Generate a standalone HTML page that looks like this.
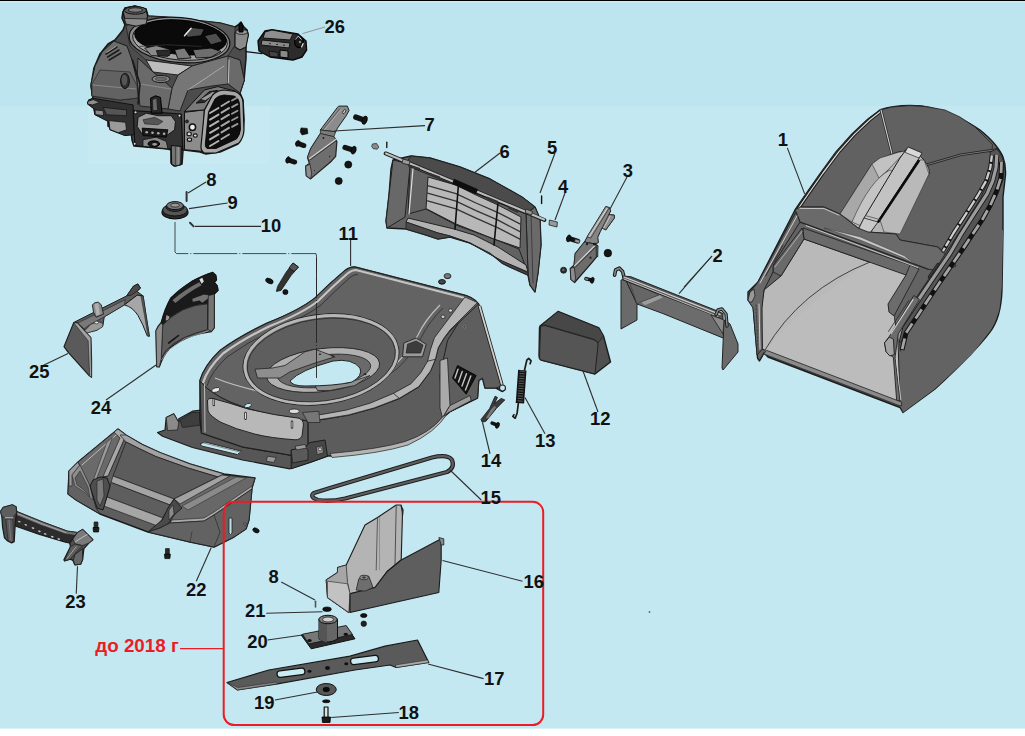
<!DOCTYPE html>
<html><head><meta charset="utf-8"><title>Схема</title>
<style>
html,body{margin:0;padding:0;background:#fff;}
body{width:1025px;height:736px;overflow:hidden;position:relative;font-family:"Liberation Sans",sans-serif;}
svg{position:absolute;left:0;top:0;display:block}
svg text{font-family:"Liberation Sans",sans-serif;font-weight:bold;}
</style></head><body>
<svg width="1025" height="736" viewBox="0 0 1025 736">
<rect x="0" y="0" width="1025" height="736" fill="#ffffff"/>
<rect x="0" y="0" width="1025" height="728.6" fill="#c4e8f1"/>
<rect x="0" y="0" width="1025" height="106" fill="#bde5ef"/>
<rect x="0" y="0" width="1025" height="1.2" fill="#000"/>
<rect x="0" y="1.2" width="1025" height="1" fill="#dff6fb"/>
<rect x="88" y="106" width="182" height="58" fill="#c6e9f2"/>
<polygon points="123,12 125,8 135,6 146,9 148,16 164,17 192,20 220,23 235,27 238,25 241,22 243,26 247,30 248,35 246,43 246,58 244,80 240,93 243,100 244,120 243,132 238,144 220,152 206,154 200,152 184,150 183,150 182,164 174,166 171,163 171,150 168,149 134,146 132,140 131,130 118,132 108,126 108,118 95,114 94,108 88,103 89,100 93,99 91,86 94,68 100,54 108,44 115,40 123,30 125,25 122,18" fill="#4c4c4c" stroke="#1a1a1a" stroke-width="1.6" stroke-linejoin="round" />
<polygon points="114,41 127,46 132,60 137,80 138,98 120,100 92,96 91,84 95,66 102,52" fill="#6c6c6c" stroke="#1a1a1a" stroke-width="1" stroke-linejoin="round" />
<polygon points="92,84 100,70 130,72 137,86 138,98 120,100 92,96" fill="#626262" stroke="#2a2a2a" stroke-width="0.7" stroke-linejoin="round" />
<polyline points="93,85 136,89" fill="none" stroke="#aaa" stroke-width="0.6" stroke-linejoin="round" stroke-linecap="round" stroke-dasharray="2,1"/>
<polyline points="106,54 117,47" fill="none" stroke="#1c1c1c" stroke-width="1.5" stroke-linejoin="round" stroke-linecap="round" />
<polyline points="107.6,57 119,50" fill="none" stroke="#1c1c1c" stroke-width="1.5" stroke-linejoin="round" stroke-linecap="round" />
<polyline points="109.2,60 121,53" fill="none" stroke="#1c1c1c" stroke-width="1.5" stroke-linejoin="round" stroke-linecap="round" />
<polyline points="106.8,52.4 116,46.4" fill="none" stroke="#bbb" stroke-width="0.7" stroke-linejoin="round" stroke-linecap="round" />
<ellipse cx="125" cy="81" rx="4.4" ry="7.6" fill="#2e2e2e" stroke="#111" stroke-width="1"/>
<ellipse cx="124.4" cy="80" rx="2.8" ry="5.6" fill="#555" stroke="none" stroke-width="1"/>
<polygon points="147.6,16 164,17 192,20 220,23 235,27 235,45 228,56 192,66 146,60 130,46 126,26" fill="#5a5a5a" stroke="#222" stroke-width="0.8" stroke-linejoin="round" />
<ellipse cx="179.5" cy="40" rx="50.5" ry="22.5" fill="#8c8c8c" stroke="#111" stroke-width="1.2" transform="rotate(5 179.5 40)"/>
<ellipse cx="180" cy="40" rx="47.5" ry="20" fill="#a4a4a4" stroke="#111" stroke-width="0.9" transform="rotate(5 180 40)"/>
<ellipse cx="180.5" cy="37.5" rx="46" ry="17" fill="#0a0a0a" stroke="#000" stroke-width="1" transform="rotate(5 180.5 37.5)"/>
<polygon points="144.7,48.1 156.3,45.6 171.2,49.8 167.9,56.4 151.3,55.6" fill="#8a8a8a" stroke="#000" stroke-width="0.8" stroke-linejoin="round" />
<polygon points="156.3,50.6 171.2,49.8 169.6,55.6 158,55.6" fill="#2a2a2a" stroke="#000" stroke-width="0.6" stroke-linejoin="round" />
<polygon points="174.6,49.8 184.5,48.1 191.1,58 177.9,58.9" fill="#7a7a7a" stroke="#000" stroke-width="0.8" stroke-linejoin="round" />
<polygon points="192.8,49.8 211,48.1 221,51.4 211,57.2 196.1,58" fill="#6e6e6e" stroke="#000" stroke-width="0.8" stroke-linejoin="round" />
<polygon points="184.5,33.2 191.1,27.4 204.4,29 201.1,35.7 187.8,37.3" fill="#4a4a4a" stroke="#000" stroke-width="0.8" stroke-linejoin="round" />
<polygon points="204.4,35.7 216,33.2 222.6,41.5 211,44.8" fill="#4e4e4e" stroke="#000" stroke-width="0.8" stroke-linejoin="round" />
<polyline points="184.5,35.7 191.1,28.2" fill="none" stroke="#e8e8e8" stroke-width="1.4" stroke-linejoin="round" stroke-linecap="round" />
<polyline points="139.7,46.4 167.9,44.8 201.1,46.4" fill="none" stroke="#333" stroke-width="0.8" stroke-linejoin="round" stroke-linecap="round" />
<polygon points="146,60 192,66 178,75 153,72" fill="#bcbcbc" stroke="#222" stroke-width="1" stroke-linejoin="round" />
<polygon points="192,66 228,56 240,60 244.4,80 240,93 228,84 212,86 188,90 180,111 168,109 172,88 178,75" fill="#767676" stroke="#222" stroke-width="1" stroke-linejoin="round" />
<polygon points="228,56 240,60 244.4,80 240,93 228,84" fill="#6a6a6a" stroke="#222" stroke-width="1" stroke-linejoin="round" />
<polyline points="188,90 224,66" fill="none" stroke="#c0c0c0" stroke-width="0.8" stroke-linejoin="round" stroke-linecap="round" stroke-dasharray="1.5,1"/>
<polyline points="229,60 228.4,83" fill="none" stroke="#ddd" stroke-width="0.8" stroke-linejoin="round" stroke-linecap="round" />
<polygon points="138,58 153,72 172,88 168,109 140,106 137,80" fill="#6a6a6a" stroke="#222" stroke-width="1" stroke-linejoin="round" />
<polyline points="140,84 171,89" fill="none" stroke="#aaa" stroke-width="0.6" stroke-linejoin="round" stroke-linecap="round" stroke-dasharray="2,1"/>
<ellipse cx="161" cy="79" rx="9" ry="3.6" fill="#858585" stroke="#1c1c1c" stroke-width="1"/>
<ellipse cx="161" cy="79" rx="5.6" ry="1.8" fill="#6a6a6a" stroke="#333" stroke-width="0.6"/>
<polyline points="132.4,60 140,84 138,104" fill="none" stroke="#1a1a1a" stroke-width="1.6" stroke-linejoin="round" stroke-linecap="round" />
<polygon points="123,12 125,8 135,6 146,9 147.6,16 146,24 136,26 126,24" fill="#6b6b6b" stroke="#111" stroke-width="1.2" stroke-linejoin="round" />
<polygon points="124.4,18.4 147,19 146,24 136,26 126,24" fill="#8a8a8a" stroke="#111" stroke-width="0.7" stroke-linejoin="round" />
<ellipse cx="135.4" cy="10.4" rx="11" ry="3.8" fill="#5a5a5a" stroke="#111" stroke-width="1"/>
<ellipse cx="135.4" cy="10" rx="7.2" ry="2.2" fill="#7e7e7e" stroke="#222" stroke-width="1"/>
<polygon points="235,33 238,30 247,30 248.4,35 246,47 240,50 235,47" fill="#8a8a8a" stroke="#111" stroke-width="1.1" stroke-linejoin="round" />
<ellipse cx="241.6" cy="32" rx="6" ry="2.4" fill="#9a9a9a" stroke="#111" stroke-width="0.8"/>
<polygon points="239,25 241,22.4 243,25 243,32 239,32" fill="#111" stroke="#000" stroke-width="1" stroke-linejoin="round" />
<polygon points="88.3,100.7 92.5,98.2 133.1,104.9 134.8,134.7 124.8,135.6 109.9,129.8 108.2,121.5 95,114.8 94.1,109 87.5,104" fill="#303030" stroke="#111" stroke-width="1" stroke-linejoin="round" />
<polygon points="109,120.6 125.6,122.3 126.5,129.8 118.2,132.7 109.9,129.4" fill="#9a9a9a" stroke="#111" stroke-width="0.8" stroke-linejoin="round" />
<polygon points="95,109.9 103.2,110.7 103.6,115.7 95.3,114.5" fill="#8a8a8a" stroke="#111" stroke-width="0.8" stroke-linejoin="round" />
<polygon points="88,101.2 93.3,99.6 99.9,102.4 92.5,104.9 87.5,104" fill="#8e8e8e" stroke="#111" stroke-width="0.8" stroke-linejoin="round" />
<polygon points="103.2,107.4 126.5,109.9 126.5,115.7 106.6,114.8" fill="#555" stroke="#111" stroke-width="0.7" stroke-linejoin="round" />
<polygon points="133.1,110.7 181.2,114 182.8,149.7 167.9,148.8 134.8,145.5" fill="#333" stroke="#111" stroke-width="1.2" stroke-linejoin="round" />
<polygon points="138.1,117.3 146.4,113.2 158,115.7 171.2,115.7 175.4,121.5 174.6,129.8 167.9,134.7 141.4,133.1 137.2,126.4" fill="#999" stroke="#111" stroke-width="0.9" stroke-linejoin="round" />
<polygon points="143,119.8 154.7,117.3 162.9,121.5 158,124.8 144.7,123.9" fill="#555" stroke="#222" stroke-width="0.6" stroke-linejoin="round" />
<polygon points="142.2,128.1 167.9,129.8 166.3,137.2 143,135.6" fill="#1a1a1a" stroke="#000" stroke-width="0.8" stroke-linejoin="round" />
<ellipse cx="146.692" cy="132.239" rx="1.3267" ry="1.3267" fill="#aaa" stroke="none" stroke-width="1"/>
<ellipse cx="152.496" cy="132.736" rx="1.3267" ry="1.3267" fill="#aaa" stroke="none" stroke-width="1"/>
<ellipse cx="158.3" cy="133.234" rx="1.3267" ry="1.3267" fill="#aaa" stroke="none" stroke-width="1"/>
<ellipse cx="164.104" cy="133.731" rx="1.3267" ry="1.3267" fill="#aaa" stroke="none" stroke-width="1"/>
<polygon points="143,139.7 156.3,137.2 166.3,141.4 167.9,148.8 143,146.3" fill="#8a8a8a" stroke="#111" stroke-width="0.8" stroke-linejoin="round" />
<ellipse cx="153.823" cy="143.847" rx="5.80431" ry="2.98507" fill="#1a1a1a" stroke="#000" stroke-width="1"/>
<ellipse cx="154.652" cy="144.345" rx="2.48756" ry="1.3267" fill="#999" stroke="none" stroke-width="1"/>
<ellipse cx="135.58" cy="112.338" rx="1.49254" ry="1.49254" fill="#ddd" stroke="#111" stroke-width="1"/>
<ellipse cx="179.527" cy="115.655" rx="1.49254" ry="1.49254" fill="#ddd" stroke="#111" stroke-width="1"/>
<ellipse cx="134.751" cy="143.847" rx="1.49254" ry="1.49254" fill="#ddd" stroke="#111" stroke-width="1"/>
<ellipse cx="178.698" cy="149.652" rx="1.49254" ry="1.49254" fill="#ddd" stroke="#111" stroke-width="1"/>
<polygon points="150.5,98.2 155.5,95.8 160.5,97.4 162.1,113.2 151.3,113.2" fill="#262626" stroke="#000" stroke-width="1" stroke-linejoin="round" />
<polygon points="153,99.9 156.3,98.6 157.1,109.9 153.3,109.9" fill="#6a6a6a" stroke="none" stroke-width="1" stroke-linejoin="round" />
<polygon points="171.2,145.5 181.2,146.3 180.9,164.6 175.4,166.2 171.6,164.2" fill="#767676" stroke="#111" stroke-width="1.2" stroke-linejoin="round" />
<polyline points="175.4,147.2 175.4,165.4" fill="none" stroke="#333" stroke-width="0.8" stroke-linejoin="round" stroke-linecap="round" />
<polyline points="178.2,147.2 178.2,164.9" fill="none" stroke="#aaa" stroke-width="0.7" stroke-linejoin="round" stroke-linecap="round" />
<polygon points="184.5,112.3 204.4,109.9 201.9,151.3 184.5,149.7" fill="#8c8c8c" stroke="#111" stroke-width="1" stroke-linejoin="round" />
<ellipse cx="192.463" cy="127.264" rx="3.15091" ry="3.15091" fill="#efefef" stroke="#111" stroke-width="1.5"/>
<ellipse cx="189.146" cy="133.897" rx="2.15589" ry="1.82421" fill="#d8d8d8" stroke="#111" stroke-width="1.1"/>
<ellipse cx="195.282" cy="135.556" rx="1.99005" ry="1.65837" fill="#d8d8d8" stroke="#111" stroke-width="1.1"/>
<ellipse cx="189.478" cy="139.701" rx="2.15589" ry="1.65837" fill="#cfcfcf" stroke="#111" stroke-width="1.1"/>
<ellipse cx="186.99" cy="121.459" rx="1.49254" ry="1.49254" fill="#333" stroke="#111" stroke-width="0.8"/>
<polygon points="184.5,111.5 204.4,90 217.7,86.6 234.3,90.8 239.2,94.9 212.7,94.9 204.4,109.9" fill="#7a7a7a" stroke="#111" stroke-width="1" stroke-linejoin="round" />
<polygon points="196.1,103.2 209.4,91.6 217.7,90.3 204.4,102.4" fill="#2a2a2a" stroke="#000" stroke-width="0.7" stroke-linejoin="round" />
<polygon points="201.1,99.1 212.7,91.9 216,92.9 205.2,100.2" fill="#9a9a9a" stroke="none" stroke-width="1" stroke-linejoin="round" />
<path d="M204.5,110 L212.5,95 Q217,90.5 224,90 L235,91.5 Q242,94 243,102 L244,130 Q243.5,138 239,143 L216,153 L204,153 Q200.5,150 201,146 Z" fill="#a6a6a6" stroke="#111" stroke-width="1.2"/>
<path d="M208.5,112 L215,99 Q218,95.5 224,95 L234,96 Q239,98 239.5,104 L240.5,129 Q240,135 236.5,139 L216,148.5 L207,148.5 Q205,147 205.3,144 Z" fill="#0e0e0e" stroke="#000" stroke-width="0.8"/>
<line x1="210" y1="113" x2="218.5" y2="108" stroke="#b4b4b4" stroke-width="2" stroke-linecap="round"/>
<line x1="221.5" y1="106" x2="229" y2="101.5" stroke="#a8a8a8" stroke-width="2" stroke-linecap="round"/>
<line x1="232" y1="100.5" x2="237.5" y2="97.5" stroke="#9a9a9a" stroke-width="1.8" stroke-linecap="round"/>
<line x1="210" y1="119.6" x2="218.5" y2="114.6" stroke="#b4b4b4" stroke-width="2" stroke-linecap="round"/>
<line x1="221.5" y1="112.6" x2="229" y2="108.1" stroke="#a8a8a8" stroke-width="2" stroke-linecap="round"/>
<line x1="232" y1="107.1" x2="237.5" y2="104.1" stroke="#9a9a9a" stroke-width="1.8" stroke-linecap="round"/>
<line x1="210" y1="126.2" x2="218.5" y2="121.2" stroke="#b4b4b4" stroke-width="2" stroke-linecap="round"/>
<line x1="221.5" y1="119.2" x2="229" y2="114.7" stroke="#a8a8a8" stroke-width="2" stroke-linecap="round"/>
<line x1="232" y1="113.7" x2="237.5" y2="110.7" stroke="#9a9a9a" stroke-width="1.8" stroke-linecap="round"/>
<line x1="210" y1="132.8" x2="218.5" y2="127.8" stroke="#b4b4b4" stroke-width="2" stroke-linecap="round"/>
<line x1="221.5" y1="125.8" x2="229" y2="121.3" stroke="#a8a8a8" stroke-width="2" stroke-linecap="round"/>
<line x1="232" y1="120.3" x2="237.5" y2="117.3" stroke="#9a9a9a" stroke-width="1.8" stroke-linecap="round"/>
<line x1="210" y1="139.4" x2="218.5" y2="134.4" stroke="#b4b4b4" stroke-width="2" stroke-linecap="round"/>
<line x1="221.5" y1="132.4" x2="229" y2="127.9" stroke="#a8a8a8" stroke-width="2" stroke-linecap="round"/>
<line x1="232" y1="126.9" x2="237.5" y2="123.9" stroke="#9a9a9a" stroke-width="1.8" stroke-linecap="round"/>
<line x1="210" y1="146" x2="218.5" y2="141" stroke="#b4b4b4" stroke-width="2" stroke-linecap="round"/>
<line x1="221.5" y1="139" x2="229" y2="134.5" stroke="#a8a8a8" stroke-width="2" stroke-linecap="round"/>
<polyline points="246,51.6 262,53.6" fill="none" stroke="#111" stroke-width="1.2" stroke-linejoin="round" stroke-linecap="round" />
<polygon points="258,41 265,31 272,29.6 298,34 306,41 306.6,50 302,57 293,60 270,57 259,51" fill="#2c2c2c" stroke="#0a0a0a" stroke-width="1.4" stroke-linejoin="round" />
<polygon points="265,32 272,30 293,34 290,40 263,38" fill="#8e8e8e" stroke="#111" stroke-width="1" stroke-linejoin="round" />
<polygon points="262,40 290,43 289,48 261,45" fill="#8a8a8a" stroke="#111" stroke-width="1" stroke-linejoin="round" />
<ellipse cx="270" cy="43.6" rx="1" ry="0.6" fill="#222" stroke="none" stroke-width="1"/>
<ellipse cx="277" cy="44.4" rx="1" ry="0.6" fill="#222" stroke="none" stroke-width="1"/>
<ellipse cx="284" cy="45.2" rx="1" ry="0.6" fill="#222" stroke="none" stroke-width="1"/>
<ellipse cx="299" cy="42" rx="4.4" ry="5.6" fill="#1a1a1a" stroke="#000" stroke-width="1.2"/>
<polyline points="295.6,39.2 298.4,36 301.2,39.2" fill="none" stroke="#e8e8e8" stroke-width="0.9" stroke-linejoin="round" stroke-linecap="round" />
<polyline points="301.6,47 303.2,43.6" fill="none" stroke="#e8e8e8" stroke-width="1.2" stroke-linejoin="round" stroke-linecap="round" />
<ellipse cx="300" cy="42" rx="1.6" ry="1.8" fill="#8a8a8a" stroke="#000" stroke-width="0.6"/>
<polygon points="280,50 288,51 288,58 280,57" fill="#8a8a8a" stroke="#000" stroke-width="1" stroke-linejoin="round" />
<polygon points="269,51 278,52.4 278,57 270,56.4" fill="#444" stroke="#000" stroke-width="0.6" stroke-linejoin="round" />
<polygon points="338.7,106.1 347.3,106.1 349.1,110.4 346.1,115.9 337.5,128.1 335.7,131.8 320.4,130 322.2,127.5 337.5,107.3" fill="#8c8c8c" stroke="#222" stroke-width="1" stroke-linejoin="round" />
<polyline points="339.9,108.6 323.1,129.4" fill="none" stroke="#4a4a4a" stroke-width="0.8" stroke-linejoin="round" stroke-linecap="round" />
<polyline points="341.2,109.2 324.6,129.7" fill="none" stroke="#b4b4b4" stroke-width="0.7" stroke-linejoin="round" stroke-linecap="round" />
<ellipse cx="344.22" cy="111.621" rx="1.10092" ry="2.32416" fill="#c4e8f1" stroke="#222" stroke-width="0.8" transform="rotate(30 344.22 111.621)"/>
<polygon points="320.4,133.6 333.8,136.7 336.9,141.6 335.7,156.3 331.4,161.2 310.6,178.9 306.3,175.8 305.7,166.1 309.4,163.6 307.5,157.5 310.6,148.9" fill="#6e6e6e" stroke="#222" stroke-width="1.2" stroke-linejoin="round" />
<polygon points="320.4,130 335.7,131.8 333.8,136.7 320.4,133.6" fill="#7c7c7c" stroke="#222" stroke-width="0.8" stroke-linejoin="round" />
<polygon points="320.4,133.6 333.8,136.7 335.7,139.4 309.4,159 307.5,157.5 310.6,148.9" fill="#787878" stroke="#222" stroke-width="0.6" stroke-linejoin="round" />
<polyline points="309.4,158.7 335.7,139.4" fill="none" stroke="#d4d4d4" stroke-width="1.3" stroke-linejoin="round" stroke-linecap="round" />
<polyline points="309.7,160.2 336,140.9" fill="none" stroke="#2e2e2e" stroke-width="0.9" stroke-linejoin="round" stroke-linecap="round" />
<polygon points="305.7,166.1 310,164.2 311.6,173.4 310.6,178.9 306.3,175.8" fill="#8e8e8e" stroke="#222" stroke-width="0.8" stroke-linejoin="round" />
<ellipse cx="323.425" cy="137.92" rx="0.978593" ry="0.978593" fill="#222" stroke="none" stroke-width="1"/>
<ellipse cx="329.541" cy="156.514" rx="1.10092" ry="1.22324" fill="#2a2a2a" stroke="#999" stroke-width="0.5"/>
<ellipse cx="314.495" cy="170.581" rx="0.978593" ry="1.10092" fill="#2a2a2a" stroke="#999" stroke-width="0.5"/>
<polygon points="301,127.9 307.2,128.4 307.9,133.6 302,134.9 300.2,131.8" fill="#141414" stroke="#000" stroke-width="0.6" stroke-linejoin="round" />
<polyline points="297.7,143.4 303.9,145.6" fill="none" stroke="#141414" stroke-width="4.89297" stroke-linejoin="round" stroke-linecap="round" />
<ellipse cx="297.737" cy="143.425" rx="1.74924" ry="3.18043" fill="#141414" stroke="#000" stroke-width="0.5" transform="rotate(19.7989 297.737 143.425)"/>
<polyline points="288,159.9 294.7,162.1" fill="none" stroke="#141414" stroke-width="4.89297" stroke-linejoin="round" stroke-linecap="round" />
<ellipse cx="287.951" cy="159.939" rx="1.88379" ry="3.42508" fill="#141414" stroke="#000" stroke-width="0.5" transform="rotate(18.1219 287.951 159.939)"/>
<polyline points="364.6,120.2 355.8,117.1" fill="none" stroke="#141414" stroke-width="5.38226" stroke-linejoin="round" stroke-linecap="round" />
<ellipse cx="364.648" cy="120.183" rx="2.42202" ry="4.40367" fill="#141414" stroke="#000" stroke-width="0.5" transform="rotate(-160.852 364.648 120.183)"/>
<polyline points="353.6,150.2 345.1,147.5" fill="none" stroke="#141414" stroke-width="5.38226" stroke-linejoin="round" stroke-linecap="round" />
<ellipse cx="353.639" cy="150.153" rx="2.28746" ry="4.15902" fill="#141414" stroke="#000" stroke-width="0.5" transform="rotate(-162.553 353.639 150.153)"/>
<ellipse cx="348.257" cy="164.587" rx="3.5474" ry="3.5474" fill="#151515" stroke="#000" stroke-width="0.6"/>
<ellipse cx="338.716" cy="180.979" rx="3.5474" ry="3.5474" fill="#151515" stroke="#000" stroke-width="0.6"/>
<polygon points="372.4,144 376.6,143.4 378.8,147.1 377.2,149.2 373.2,148.7 371.7,146.5" fill="#8a8a8a" stroke="#333" stroke-width="0.8" stroke-linejoin="round" />
<polyline points="386.8,142.2 386.8,147.5" fill="none" stroke="#111" stroke-width="1.3" stroke-linejoin="round" stroke-linecap="round" />
<polygon points="393,160 411,156 430,158 460,167 490,179 522,197 535,207 540,219 541,245 538,273 535,292 530,285 528,275 510,267 502,263 490,253 470,243 450,237 438,239 426,235 406,229 387,228 386,221 389,195 391,169" fill="#626262" stroke="#1c1c1c" stroke-width="1.4" stroke-linejoin="round" />
<polygon points="393,160 406,163 410,167 405,217 387,228 386,221 389,195" fill="#686868" stroke="#222" stroke-width="1" stroke-linejoin="round" />
<polygon points="411,156 430,158 460,167 490,179 522,197 535,207 526,213 478,192 450,181 406,163" fill="#4b4b4b" stroke="#222" stroke-width="1" stroke-linejoin="round" />
<polygon points="535,207 540,219 541,245 538,273 535,292 530,285 528,273 526,214" fill="#6a6a6a" stroke="#222" stroke-width="1" stroke-linejoin="round" />
<polyline points="531,213 533,283" fill="none" stroke="#333" stroke-width="0.8" stroke-linejoin="round" stroke-linecap="round" />
<polygon points="410,167 526,214 528,273 519,249 494,239 456,225 426,209 408,214" fill="#626262" stroke="#222" stroke-width="1" stroke-linejoin="round" />
<polyline points="413,168.6 409,214" fill="none" stroke="#ddd" stroke-width="1.2" stroke-linejoin="round" stroke-linecap="round" />
<polygon points="428,177 456,185 476,195 498,205 521,217 520,248 494,239 456,224 426,208.6" fill="#b8b8b8" stroke="#222" stroke-width="1" stroke-linejoin="round" />
<polyline points="427.6,185.6 456,193.6 476,203 498,212.6 520.4,224.2" fill="none" stroke="#333" stroke-width="1.3" stroke-linejoin="round" stroke-linecap="round" />
<polyline points="427.6,193.2 456,201.2 476,210.6 498,220.2 520.4,231.8" fill="none" stroke="#333" stroke-width="1.3" stroke-linejoin="round" stroke-linecap="round" />
<polyline points="427.6,200.8 456,208.8 476,218.2 498,227.8 520.4,239.4" fill="none" stroke="#333" stroke-width="1.3" stroke-linejoin="round" stroke-linecap="round" />
<polygon points="408,218 454,229 474,235 498,247 526,265 528,272 502,261 470,243 450,236 438,233 406,222" fill="#b2b2b2" stroke="#222" stroke-width="1" stroke-linejoin="round" />
<polygon points="406,222 438,233 450,236 470,243 502,261 528,273 528,275 510,267 502,263 490,253 470,243 450,237 438,239 426,235 406,229" fill="#4a4a4a" stroke="#222" stroke-width="0.8" stroke-linejoin="round" />
<polyline points="458.4,185 455,229" fill="none" stroke="#111" stroke-width="1.6" stroke-linejoin="round" stroke-linecap="round" />
<polyline points="498,203 494,245" fill="none" stroke="#111" stroke-width="1.6" stroke-linejoin="round" stroke-linecap="round" />
<polyline points="385.6,153.4 544.4,220" fill="none" stroke="#1c1c1c" stroke-width="3.9" stroke-linejoin="round" stroke-linecap="round" />
<polyline points="386,153.4 544,219.6" fill="none" stroke="#bcbcbc" stroke-width="2.2" stroke-linejoin="round" stroke-linecap="round" />
<polyline points="453,181.4 477,191.8" fill="none" stroke="#0e0e0e" stroke-width="5.6" stroke-linejoin="round" stroke-linecap="butt" />
<polygon points="403,159 410,161 409,165 402,163" fill="#999" stroke="#222" stroke-width="0.8" stroke-linejoin="round" />
<polygon points="526,209 532.4,211.6 531.6,215 525.2,212.6" fill="#999" stroke="#222" stroke-width="0.8" stroke-linejoin="round" />
<polygon points="408,164 420,168 420,171 408,166.6" fill="#333" stroke="none" stroke-width="1" stroke-linejoin="round" />
<polygon points="430,173 440,176.6 440,179.4 430,175.4" fill="#333" stroke="none" stroke-width="1" stroke-linejoin="round" />
<polygon points="487,196.6 498,201 498,203.8 487,199.4" fill="#333" stroke="none" stroke-width="1" stroke-linejoin="round" />
<polygon points="508,206 518,210 518,213 508,208.6" fill="#333" stroke="none" stroke-width="1" stroke-linejoin="round" />
<ellipse cx="447.6" cy="276.4" rx="2.8" ry="2.2" fill="#555" stroke="#000" stroke-width="0.6"/>
<ellipse cx="442" cy="282" rx="3.2" ry="2.2" fill="#333" stroke="#000" stroke-width="0.6"/>
<polyline points="541.6,196 541.6,203.6" fill="none" stroke="#111" stroke-width="1.4" stroke-linejoin="round" stroke-linecap="round" />
<polygon points="549.4,220 557.4,222 557,227 549,225" fill="#999" stroke="#222" stroke-width="0.8" stroke-linejoin="round" />
<polygon points="605.8,206.6 609.4,207.6 610.7,210.9 608.8,214.6 614.3,215.2 614.3,218.2 605.8,229.9 602.1,228 600.3,231.7 597.8,237.2 598.4,242.7 594.1,244.2 584.4,242.1 587.4,236.6" fill="#858585" stroke="#1c1c1c" stroke-width="1" stroke-linejoin="round" />
<polygon points="605.8,206.6 609.4,207.6 590.7,238.1 587,236.8" fill="#9a9a9a" stroke="#222" stroke-width="0.7" stroke-linejoin="round" />
<polyline points="607,208.5 589.3,236.6" fill="none" stroke="#e0e0e0" stroke-width="0.9" stroke-linejoin="round" stroke-linecap="round" />
<polygon points="608.8,214.6 614.3,215.2 614.3,218.2 605.8,229.9 602.1,228" fill="#8e8e8e" stroke="#222" stroke-width="0.8" stroke-linejoin="round" />
<polyline points="610.3,216 603.9,227.8" fill="none" stroke="#cfcfcf" stroke-width="0.8" stroke-linejoin="round" stroke-linecap="round" />
<polygon points="584.4,242.1 594.1,243.9 597.2,245.2 597.2,256.2 591.7,262.9 574.6,282.5 570.9,279.4 570.3,268.4 574,265.3 575.2,253.7" fill="#6c6c6c" stroke="#1c1c1c" stroke-width="1.2" stroke-linejoin="round" />
<polygon points="584.4,242.1 594.1,243.9 595.4,246.4 574.6,266.2 574,265.3 575.2,253.7" fill="#767676" stroke="#222" stroke-width="0.6" stroke-linejoin="round" />
<polyline points="574.6,265.9 594.8,245.8" fill="none" stroke="#d4d4d4" stroke-width="1.3" stroke-linejoin="round" stroke-linecap="round" />
<polyline points="575.2,267.4 595.4,247.2" fill="none" stroke="#2e2e2e" stroke-width="0.9" stroke-linejoin="round" stroke-linecap="round" />
<polygon points="570.3,268.4 574.3,267.2 575.6,278.2 574.6,282.5 570.9,279.4" fill="#8e8e8e" stroke="#222" stroke-width="0.8" stroke-linejoin="round" />
<polygon points="596,245.2 598.1,245.8 597.8,256.8 596.3,256.2" fill="#5a5a5a" stroke="#222" stroke-width="0.7" stroke-linejoin="round" />
<ellipse cx="587.049" cy="244.174" rx="1.10092" ry="1.10092" fill="#1a1a1a" stroke="none" stroke-width="1"/>
<ellipse cx="594.388" cy="244.174" rx="1.34557" ry="1.34557" fill="#1a1a1a" stroke="none" stroke-width="1"/>
<ellipse cx="590.474" cy="257.63" rx="1.10092" ry="1.22324" fill="#222" stroke="none" stroke-width="1"/>
<polyline points="568.7,238.4 577.6,241.1" fill="none" stroke="#141414" stroke-width="4.89297" stroke-linejoin="round" stroke-linecap="round" />
<ellipse cx="568.7" cy="238.425" rx="2.01835" ry="3.66972" fill="#141414" stroke="#000" stroke-width="0.5" transform="rotate(16.7712 568.7 238.425)"/>
<polygon points="575.2,239 580.1,240.5 579.2,243.3 574.6,242" fill="#9a9a9a" stroke="#222" stroke-width="0.6" stroke-linejoin="round" />
<ellipse cx="607.844" cy="253.104" rx="3.79205" ry="3.79205" fill="#151515" stroke="#000" stroke-width="0.6"/>
<ellipse cx="563.563" cy="270.229" rx="3.0581" ry="3.0581" fill="#2e2e2e" stroke="#000" stroke-width="0.6"/>
<ellipse cx="563.318" cy="269.862" rx="1.22324" ry="1.22324" fill="#6a6a6a" stroke="none" stroke-width="1"/>
<polyline points="592.3,280.3 586.2,278.7" fill="none" stroke="#141414" stroke-width="3.66972" stroke-linejoin="round" stroke-linecap="round" />
<ellipse cx="592.309" cy="280.26" rx="1.74924" ry="3.18043" fill="#141414" stroke="#000" stroke-width="0.5" transform="rotate(-165.426 592.309 280.26)"/>
<polygon points="585,277.6 588.6,278.4 588,280.6 584.6,279.6" fill="#8a8a8a" stroke="#222" stroke-width="0.6" stroke-linejoin="round" />
<polyline points="614.6,275.2 615.6,270 619.4,268.2 622.6,271.6 624.2,278" fill="none" stroke="#1c1c1c" stroke-width="3.6" stroke-linejoin="round" stroke-linecap="round" />
<polyline points="614.6,275.2 615.6,270 619.4,268.2 622.6,271.6 624.2,278" fill="none" stroke="#8a8a8a" stroke-width="1.5" stroke-linejoin="round" stroke-linecap="round" />
<polygon points="621,280 625.4,279 637,304 637,320 621,329" fill="#6a6a6a" stroke="#222" stroke-width="1" stroke-linejoin="round" />
<polygon points="625.4,279 715,315 724,328 724,338.4 663,313.6 637,304" fill="#6c6c6c" stroke="#222" stroke-width="1" stroke-linejoin="round" />
<polygon points="641,302 659,295 663,297.4 645,305.2" fill="#9c9c9c" stroke="none" stroke-width="1" stroke-linejoin="round" />
<polygon points="629,281 659,295 641,302 637,304" fill="#666" stroke="#333" stroke-width="0.6" stroke-linejoin="round" />
<polygon points="623,276 631,276.8 716,310.4 723,313.6 723,320 715,315.6 623,280" fill="#555" stroke="#222" stroke-width="1" stroke-linejoin="round" />
<polyline points="624,277 720,314.4" fill="none" stroke="#d0d0d0" stroke-width="1.3" stroke-linejoin="round" stroke-linecap="round" />
<polyline points="624,279 718,316.4" fill="none" stroke="#bdbdbd" stroke-width="1" stroke-linejoin="round" stroke-linecap="round" />
<polygon points="724,320 730,324 738,344 738,352 723,370 722,368" fill="#6a6a6a" stroke="#222" stroke-width="1" stroke-linejoin="round" />
<polygon points="711,315 724,320 723,334" fill="#8a8a8a" stroke="#222" stroke-width="0.8" stroke-linejoin="round" />
<polyline points="716,314.4 718,310 722,309 726,314 727,326" fill="none" stroke="#1c1c1c" stroke-width="3.4" stroke-linejoin="round" stroke-linecap="round" />
<polyline points="716,314.4 718,310 722,309 726,314 727,326" fill="none" stroke="#8a8a8a" stroke-width="1.4" stroke-linejoin="round" stroke-linecap="round" />
<path d="M540,326 L558,311.5 L599,328 L603.5,336 L610.5,362 L595,374 L541,360 Q539,359 539,356 L539.5,328 Z" fill="#505050" stroke="#1c1c1c" stroke-width="1.4" stroke-linejoin="round"/>
<path d="M540.5,327 Q541,325.5 545,325.5 L593,339.5 Q598,341 598,345 L595,374 L541,360 Q539.5,359 539.5,356 Z" fill="#555" stroke="#222" stroke-width="1"/>
<path d="M540.5,326 L558,311.5 L599,328 L603.5,336 L598,343 Q597,340 593,339 L545,325 Z" fill="#474747" stroke="#222" stroke-width="0.8"/>
<polyline points="186.6,192 186.6,201" fill="none" stroke="#333" stroke-width="2" stroke-linejoin="round" stroke-linecap="round" />
<ellipse cx="175" cy="212.4" rx="13" ry="6.4" fill="#2a2a2a" stroke="#111" stroke-width="1.2"/>
<ellipse cx="175" cy="210" rx="12.4" ry="6" fill="#555" stroke="#111" stroke-width="1"/>
<ellipse cx="175" cy="207" rx="9" ry="4.4" fill="#3a3a3a" stroke="#111" stroke-width="1"/>
<ellipse cx="175" cy="205.6" rx="8.4" ry="4" fill="#777" stroke="#111" stroke-width="1"/>
<ellipse cx="175" cy="205.2" rx="4.4" ry="2" fill="#999" stroke="#222" stroke-width="0.8"/>
<polyline points="190,222.8 193.6,226.4" fill="none" stroke="#333" stroke-width="2" stroke-linejoin="round" stroke-linecap="round" />
<polyline points="175,222 175,252 176.5,253.6 316,253.6 316.5,256 316.5,335" fill="none" stroke="#222" stroke-width="0.8" stroke-dasharray="44,2,1,2"/>
<polygon points="293,263 298.4,267 291,275.6 281,290.4 276.4,291.4 277.6,286.4 286,272.4" fill="#333" stroke="#111" stroke-width="0.8" stroke-linejoin="round" />
<polygon points="293,263 298.4,267 294.4,271.6 289,268" fill="#555" stroke="#111" stroke-width="0.8" stroke-linejoin="round" />
<ellipse cx="269.4" cy="281" rx="4" ry="2.4" fill="#151515" stroke="#000" stroke-width="0.6" transform="rotate(25 269.4 281)"/>
<ellipse cx="285.4" cy="292" rx="2.6" ry="2.6" fill="#151515" stroke="#000" stroke-width="0.6"/>
<path d="M795,210 L806,194 L820,174 L836,152 L852,134 L868,119 L880,110 Q892,105.5 910,105.5 L921.7,106 Q940,109 956,116.3 Q970,123 980,130 Q990,138 995,144.5 Q1001,152 1003,157 Q1006,165 1005.5,175 L1003,197 L1003,230 L1002,290 Q1001,318 990,332 Q975,352 935,389 L903,412.5 L900,407.5 L768,357 L764,353 L759.5,361 L757.5,358 L753,304 L748,300 L748,292 L758,282 Z" fill="#636363" stroke="#1c1c1c" stroke-width="1.4" stroke-linejoin="round"/>
<polygon points="1003.2,230 1001.8,285.7 999.1,310.8 990.7,330.3 971.2,355.3 935,388.8 903,412.5 894.6,356.7 907.1,335.8 935,291.3 979.6,230" fill="#636363" stroke="none" stroke-width="0" stroke-linejoin="round" />
<polygon points="795,210 806,194 820,174 836,152 852,134 868,119 880,110 892,107 910,105.6 926,106.6 945,110 960,117 975,127 992.4,144.4 991.8,155.4 990.2,167.6 986.2,180.8 978.8,193.8 971.4,205.2 964.2,216.6 953.4,233 943,251 938,247 900,240 896,234 868,232 858,228 840,214 824,207 800,207" fill="#616161" stroke="#222" stroke-width="0.8" stroke-linejoin="round" />
<polyline points="798,209 809,193 823,173 839,151.6 854.4,134.4 869.6,120 880.4,111.6" fill="none" stroke="#1a1a1a" stroke-width="3.2" stroke-linejoin="round" stroke-linecap="round" />
<polyline points="798,209 809,193 823,173 839,151.6 854.4,134.4 869.6,120 880.4,111.6" fill="none" stroke="#d9d9d9" stroke-width="1.3" stroke-linejoin="round" stroke-linecap="round" />
<polyline points="881,110 892,154" fill="none" stroke="#222" stroke-width="2.6" stroke-linejoin="round" stroke-linecap="round" />
<polyline points="881,110 892,154" fill="none" stroke="#cdcdcd" stroke-width="1.1" stroke-linejoin="round" stroke-linecap="round" />
<polyline points="926,165 961,154.8 996.8,149.6" fill="none" stroke="#222" stroke-width="2.6" stroke-linejoin="round" stroke-linecap="round" />
<polyline points="926,165 961,154.8 996.8,149.6" fill="none" stroke="#8a8a8a" stroke-width="0.8" stroke-linejoin="round" stroke-linecap="round" />
<path d="M840,214 L872,164 Q880,158 898,152 Q915,147 924,160 Q931,170 929,174 L896,234 L868,232 L858,228 Z" fill="#b6b6b6" stroke="#222" stroke-width="1"/>
<polygon points="840,214 872,164 880,158 888,170 852,222" fill="#a8a8a8" stroke="#333" stroke-width="0.6" stroke-linejoin="round" />
<polygon points="872,164 880,158 898,152.4 906,151 888,170 879,178" fill="#c2c2c2" stroke="#333" stroke-width="0.6" stroke-linejoin="round" />
<path d="M852,222 Q870,180 890,170 L900,176 Q880,200 866,228 Z" fill="#c4c4c4" stroke="#333" stroke-width="0.6"/>
<polygon points="900,234 929,174 924,160 920,160 880,220 884,232" fill="#b9b9b9" stroke="#333" stroke-width="0.6" stroke-linejoin="round" />
<polygon points="908,147 922,153 918,160 880,218 870,233 858,230 864,218 900,158" fill="#c3c3c3" stroke="#1a1a1a" stroke-width="1" stroke-linejoin="round" />
<polygon points="908,147 922,153 919,158 905,152.4" fill="#d8d8d8" stroke="#222" stroke-width="0.7" stroke-linejoin="round" />
<polyline points="918.6,161 878.4,221.6" fill="none" stroke="#0c0c0c" stroke-width="2.6" stroke-linejoin="round" stroke-linecap="round" />
<polygon points="864,218 878,222 870,233 858,230" fill="#c9c9c9" stroke="#222" stroke-width="0.8" stroke-linejoin="round" />
<polyline points="865.6,215.6 880,219.6" fill="none" stroke="#444" stroke-width="0.7" stroke-linejoin="round" stroke-linecap="round" />
<polygon points="795,210 800,207 824,207 840,214 858,228 868,232 896,234 900,240 938,247 942,252 950,256 956,266 942,272 928,269 920,266 806,224 800,222 796,212" fill="#6a6a6a" stroke="#222" stroke-width="0.9" stroke-linejoin="round" />
<polyline points="800,208.4 824,208.6 839,215.2" fill="none" stroke="#c4c4c4" stroke-width="1" stroke-linejoin="round" stroke-linecap="round" />
<polygon points="824,228 860,240 904,258 916,265 904,255.6 860,236.8" fill="#c6c6c6" stroke="#333" stroke-width="0.5" stroke-linejoin="round" />
<path d="M990,152 L997,149 Q1003,156 1004.5,166 L1003,180 L997,196 L985,218 L965,249 L925,306 L905,336 L893,352 L884,345 L900,322 L940,262 L962,228 L980,199 L988,182 L991,166 Z" fill="#555" stroke="#1c1c1c" stroke-width="0.8"/>
<polyline points="991.9,155.5 990.3,167.7 986.2,180.8 978.8,193.8 971.5,205.3 964.2,216.7 953.5,233 943,251" fill="none" stroke="#161616" stroke-width="4.2" stroke-linejoin="round"/>
<polyline points="991.9,155.5 990.3,167.7 986.2,180.8 978.8,193.8 971.5,205.3 964.2,216.7 953.5,233 943,251" fill="none" stroke="#cdcdcd" stroke-width="2.3" stroke-linejoin="round" stroke-dasharray="6.5,1.8,6.5,1.8,8,1.8,9,1.8,10,1.8,12,1.8,14,1.8,16,1.8"/>
<polyline points="996.8,154.7 996,167.7 992.7,180.8 987,193.8 979.6,205.3 972.3,216.7 960.9,234.6 949.5,254.2 925,290 901,326 897.5,340 898,352" fill="none" stroke="#1a1a1a" stroke-width="5" stroke-linejoin="round"/>
<polyline points="996.8,154.7 996,167.7 992.7,180.8 987,193.8 979.6,205.3 972.3,216.7 960.9,234.6 949.5,254.2 925,290 901,326 897.5,340 898,352" fill="none" stroke="#9c9c9c" stroke-width="3.2" stroke-linejoin="round" />
<polyline points="1001.5,162 1000.9,177.5 996.8,190.6 990.3,205.3 982.1,220 972.3,234.6 962.5,249.3 940,282 906,333 902,350" fill="none" stroke="#111" stroke-width="4.8" stroke-linejoin="round"/>
<polyline points="1001.5,162 1000.9,177.5 996.8,190.6 990.3,205.3 982.1,220 972.3,234.6 962.5,249.3 940,282 906,333 902,350" fill="none" stroke="#a4a4a4" stroke-width="2.8" stroke-linejoin="round" stroke-dasharray="11,6"/>
<polygon points="804,239 906,275 888,304 889,312 894,316 898,340 900,402 898,401.6 762,349 761,308 764,290 781,276" fill="#b9b9b9" stroke="#222" stroke-width="1" stroke-linejoin="round" />
<path d="M765,350 Q806,302 870,262 L906,275 L888,305 L889,312 L894,316 L899,402 L767,352 Z" fill="#bcbcbc" stroke="none"/>
<path d="M765,350 Q800,290 870,262" fill="none" stroke="#222" stroke-width="0.8"/>
<polygon points="803,228 910,265 916,268 906,275 804,239" fill="#6a6a6a" stroke="#222" stroke-width="0.9" stroke-linejoin="round" />
<polygon points="910,265 919,269 894,316 889,312 888,304 906,275" fill="#6c6c6c" stroke="#222" stroke-width="0.9" stroke-linejoin="round" />
<polygon points="773,266 802,228 804,239 781,276 773,272" fill="#6a6a6a" stroke="#222" stroke-width="0.9" stroke-linejoin="round" />
<polyline points="775,267 802.4,231" fill="none" stroke="#bbb" stroke-width="0.8" stroke-linejoin="round" stroke-linecap="round" />
<polyline points="800,222.4 806,224.4 920,266.4 928,269.4" fill="none" stroke="#222" stroke-width="0.9" stroke-linejoin="round" stroke-linecap="round" />
<polyline points="806,225.6 918,267.6" fill="none" stroke="#d0d0d0" stroke-width="0.9" stroke-linejoin="round" stroke-linecap="round" />
<polygon points="748,300 750,292 758,282 796,212 800,222 776,260 773,266 773,272 764,290 762,308 762.4,349 757,355 753,308 749,302" fill="#686868" stroke="#222" stroke-width="1" stroke-linejoin="round" />
<polyline points="760,283 797,216" fill="none" stroke="#d0d0d0" stroke-width="1" stroke-linejoin="round" stroke-linecap="round" />
<polyline points="765.6,276 783,245" fill="none" stroke="#222" stroke-width="0.8" stroke-linejoin="round" stroke-linecap="round" />
<polyline points="759,304 760,349" fill="none" stroke="#cfcfcf" stroke-width="1" stroke-linejoin="round" stroke-linecap="round" />
<polyline points="756,305 758,352" fill="none" stroke="#333" stroke-width="0.8" stroke-linejoin="round" stroke-linecap="round" stroke-dasharray="2,1.5"/>
<polygon points="748,300 750,292 754,289 755,296 752,302 749,302" fill="#999" stroke="#222" stroke-width="0.8" stroke-linejoin="round" />
<polygon points="913.8,295.5 919.5,299.6 898.3,333.8 895.1,356.7 900,400.7 896.7,400.7 893.4,357.5 886.1,351.8 884.5,342.8 889.4,336.3" fill="#6c6c6c" stroke="#222" stroke-width="0.9" stroke-linejoin="round" />
<polyline points="913,299.6 891,333.8" fill="none" stroke="#d4d4d4" stroke-width="1.1" stroke-linejoin="round" stroke-linecap="round" />
<polyline points="908.9,300.4 888.5,331.4" fill="none" stroke="#2a2a2a" stroke-width="0.8" stroke-linejoin="round" stroke-linecap="round" />
<polygon points="884.5,342.8 889.4,337.1 893.4,339.1 894.3,354.7 889.7,355.9 886.1,351.8" fill="#a4a4a4" stroke="#1c1c1c" stroke-width="0.9" stroke-linejoin="round" />
<polyline points="896.2,358.3 900.8,399.9" fill="none" stroke="#d0d0d0" stroke-width="0.9" stroke-linejoin="round" stroke-linecap="round" />
<polyline points="938,264 929,277" fill="none" stroke="#1a1a1a" stroke-width="2.5" stroke-linejoin="round" stroke-linecap="round" />
<polyline points="938,264 929,277" fill="none" stroke="#444" stroke-width="1.2" stroke-linejoin="round" stroke-linecap="round" />
<polygon points="763.7,354 766.5,350.3 901.6,402.1 901.6,406 897.4,404.9" fill="#8a8a8a" stroke="#222" stroke-width="0.8" stroke-linejoin="round" />
<polygon points="157.5,432.5 165,430 166.2,417.5 173.8,413.8 178.8,422.5 178.8,418.8 192.5,411.2 201.2,410 202.5,432.5 290,455 305,448.8 310,442.5 325,440 327.5,456.2 310,462.5 290,468.8 242.5,460 192.5,447.5 162.5,436.2" fill="#565656" stroke="#1c1c1c" stroke-width="1.2" stroke-linejoin="round" />
<polygon points="166.2,417.5 173.8,413.8 178.8,422.5 177.5,430 167.5,430.5" fill="#8a8a8a" stroke="#222" stroke-width="0.8" stroke-linejoin="round" />
<polygon points="180,420 192.5,412.5 200,412.5 201.2,425 182.5,427.5" fill="#3e3e3e" stroke="#222" stroke-width="0.8" stroke-linejoin="round" />
<polygon points="200,443.8 205,442 241.2,451.2 237.5,454.5 202.5,446.2" fill="#c4e8f1" stroke="#222" stroke-width="0.9" stroke-linejoin="round" />
<polyline points="203.8,443 240,452" fill="none" stroke="#8a8a8a" stroke-width="1.2" stroke-linejoin="round" stroke-linecap="round" />
<polygon points="267.5,456.2 276.2,457.5 273.8,462.5 266.2,461.2" fill="#999" stroke="#222" stroke-width="0.7" stroke-linejoin="round" />
<path d="M200,380.5 Q204,366 220,350.5 Q240,336 267.5,323 Q300,310 315,298 Q330,283 345,270.5 Q350,266.5 355,267 L460,294 Q474,297 478.5,304 L482.5,318 L502.5,385.5 L505,389 L502.5,391.5 L496,388 L485,388 L482.5,378 L478.7,380.5 L477.5,398 L450,411.7 L442.5,418 Q430,434 405,442.5 Q380,450 345,453 L330,456 L310,455 L290,455 L243,447 L201.5,433 L200,420 Z" fill="#5c5c5c" stroke="#1a1a1a" stroke-width="1.5" stroke-linejoin="round"/>
<polygon points="478.8,304.2 482.5,318 502.5,385.5 496.2,388 485,388 482.5,378 478.8,380.5 477.5,398 450,411.8 442.5,418 440,375.5 447.5,340.5 460,320.5 475,305.5" fill="#5e5e5e" stroke="#222" stroke-width="1" stroke-linejoin="round" />
<polyline points="479.5,306 502,385" fill="none" stroke="#1c1c1c" stroke-width="3.4" stroke-linejoin="round" stroke-linecap="butt" />
<polyline points="479.5,306 502,385" fill="none" stroke="#cfcfcf" stroke-width="1.8" stroke-linejoin="round" stroke-linecap="butt" />
<ellipse cx="502.5" cy="388" rx="3" ry="3" fill="#c4e8f1" stroke="#222" stroke-width="1.1"/>
<ellipse cx="464.25" cy="326.75" rx="1.25" ry="1.25" fill="#333" stroke="#999" stroke-width="0.6"/>
<polygon points="440,360.5 447.5,358 450,405.5 442.5,418 440,408" fill="#aaa" stroke="#222" stroke-width="0.8" stroke-linejoin="round" />
<polygon points="450,405.5 470,395.5 471.2,400.5 447.5,413 442.5,418" fill="#9a9a9a" stroke="#222" stroke-width="0.8" stroke-linejoin="round" />
<polygon points="457.5,365.5 476.2,375.5 466.2,394.2 452.5,378" fill="#141414" stroke="#000" stroke-width="0.8" stroke-linejoin="round" />
<polyline points="458,369.2 455,378" fill="none" stroke="#c4c4c4" stroke-width="1.4" stroke-linejoin="round" stroke-linecap="round" />
<polyline points="462.2,371.5 458.5,382" fill="none" stroke="#c4c4c4" stroke-width="1.4" stroke-linejoin="round" stroke-linecap="round" />
<polyline points="466.5,373.8 462,386" fill="none" stroke="#c4c4c4" stroke-width="1.4" stroke-linejoin="round" stroke-linecap="round" />
<polyline points="470.8,376 465.5,390" fill="none" stroke="#c4c4c4" stroke-width="1.4" stroke-linejoin="round" stroke-linecap="round" />
<path d="M200,380.5 Q204,366 220,350.5 Q240,336 267.5,323 Q300,310 315,298 Q330,283 345,270.5 Q350,266.5 355,267 L460,294 Q474,297 478.5,304 L450,331 L444,338.5 L438.3,348 L435.4,359.5 L430.5,371.3 L418.8,387 L399.3,398.7 L373.9,408.4 L348.5,415.3 L325,419.2 L308,421.5 Q260,415 230,402 Q208,392 200,381 Z" fill="#636363" stroke="#222" stroke-width="1"/>
<path d="M203,383 Q207,369 223,353.5 Q243,339 270,326 Q303,313 318,301 Q333,286 347.5,273.5 Q352,270 356,270 L461,297 Q471,299 475,304" fill="none" stroke="#c4c4c4" stroke-width="2.2"/>
<path d="M207,386 Q211,372 227,357 Q247,342.5 273,330 Q306,317 321,305 Q336,290 350,277.5 Q354,274 358,274.5" fill="none" stroke="#2a2a2a" stroke-width="0.8"/>
<path d="M464.9,297 L477.4,302.5 L450,330 L444,338 L438.3,347.6 L435.4,359.3 L430.5,371 L418.8,386.6 L399.3,398.3 L373.9,408 L348.5,414.9 L325,418.8 L309,421 L309,416.5 L325,413.9 L346.6,410 L370,403.2 L393.4,393.4 L411,383.7 L420.7,372.9 L427.6,361.2 L430.5,349.5 L434.4,337.8 L440.2,330 Z" fill="#b4b4b4" stroke="#222" stroke-width="0.8" stroke-linejoin="round"/>
<path d="M440,305 Q425,320 418,335 Q410,350 395,365 Q372,385 338,392 Q300,398 262,392 Q232,385 215,378" fill="none" stroke="#c0c0c0" stroke-width="1.2"/>
<path d="M443,308 Q428,323 421,338 Q413,353 398,368 Q375,388 339,395 Q300,401 262,395" fill="none" stroke="#2a2a2a" stroke-width="0.7"/>
<polyline points="427.6,361.2 435.4,359.3" fill="none" stroke="#222" stroke-width="0.8" stroke-linejoin="round" stroke-linecap="round" />
<polyline points="393.4,393.4 399.3,398.3" fill="none" stroke="#222" stroke-width="0.8" stroke-linejoin="round" stroke-linecap="round" />
<ellipse cx="450.5" cy="310.5" rx="2" ry="1.75" fill="#ccc" stroke="#222" stroke-width="0.7"/>
<ellipse cx="443" cy="316.75" rx="2" ry="1.75" fill="#ccc" stroke="#222" stroke-width="0.7"/>
<ellipse cx="321" cy="359.5" rx="78.5" ry="45" fill="#5a5a5a" stroke="#222" stroke-width="0.9" transform="rotate(-8 321 359.5)"/>
<ellipse cx="321" cy="359.5" rx="76.5" ry="43" fill="none" stroke="#b6b6b6" stroke-width="3" transform="rotate(-8 321 359.5)"/>
<ellipse cx="321.3" cy="360" rx="74.6" ry="41" fill="#5e5e5e" stroke="#2a2a2a" stroke-width="0.8" transform="rotate(-8 321.3 360)"/>
<polygon points="403.8,343 416.2,338 426.2,344.2 422.5,356.8 402.5,356.8" fill="#9a9a9a" stroke="#222" stroke-width="0.9" stroke-linejoin="round" />
<polygon points="407.5,344.2 416.2,341 423,345 420.5,353 406.2,353" fill="#3c3c3c" stroke="#222" stroke-width="0.7" stroke-linejoin="round" />
<ellipse cx="323" cy="370" rx="57" ry="21.5" fill="#b0b0b0" stroke="#222" stroke-width="0.9" transform="rotate(-7 323 370)"/>
<ellipse cx="324" cy="371" rx="47" ry="16" fill="#6a6a6a" stroke="#222" stroke-width="0.8" transform="rotate(-7 324 371)"/>
<polygon points="255,369.2 272.5,368 285,365.5 305,351.8 315,349.2 335,356.8 315,363 290,371.8 280,378 257.5,378" fill="#8e8e8e" stroke="#222" stroke-width="0.8" stroke-linejoin="round" />
<polygon points="315,385.5 330,383 347.5,383 362.5,378 370,375.5 355,385.5 330,390.5 317.5,390.5" fill="#8e8e8e" stroke="#222" stroke-width="0.8" stroke-linejoin="round" />
<path d="M290,381 Q300,370 333,361 Q352,358 360,368 Q363,376 352,382 Q335,386 305,386 Q292,386 290,381 Z" fill="#c4e8f1" stroke="#222" stroke-width="1"/>
<ellipse cx="365" cy="374.25" rx="1.5" ry="1" fill="#222" stroke="none" stroke-width="1"/>
<ellipse cx="332.5" cy="356" rx="1.25" ry="0.75" fill="#222" stroke="none" stroke-width="1"/>
<ellipse cx="320" cy="354.25" rx="1.25" ry="0.75" fill="#222" stroke="none" stroke-width="1"/>
<path d="M200,381 L201.5,433 L243,447 L290,455 L308,455 L308,421 Q260,415 230,402 Q208,392 200,381 Z" fill="#5a5a5a" stroke="#222" stroke-width="1"/>
<path d="M207.5,401 Q207.5,398.5 212,398.3 Q230,403 248,409 Q275,415.5 299,418.2 Q303.5,420 303.4,425 L302,436 Q300,440 295,439.8 Q270,438 254.5,434 Q235,429 221,422.4 Q210,416 208,411 Z" fill="#b8b8b8" stroke="#222" stroke-width="1"/>
<polyline points="204.5,384 205,432" fill="none" stroke="#c8c8c8" stroke-width="0.9" stroke-linejoin="round" stroke-linecap="round" />
<polyline points="302.5,420 308,421.2 308,447.5" fill="none" stroke="#222" stroke-width="1" stroke-linejoin="round" stroke-linecap="round" />
<polygon points="302.5,412.5 318.8,411.2 320,422.5 308,422.5" fill="#777" stroke="#222" stroke-width="0.7" stroke-linejoin="round" />
<polyline points="213.8,399.2 213.8,405" fill="none" stroke="#222" stroke-width="2.4" stroke-linejoin="round" stroke-linecap="round" />
<polyline points="213.8,399.5 213.8,404.8" fill="none" stroke="#ddd" stroke-width="1" stroke-linejoin="round" stroke-linecap="round" />
<polyline points="245.5,413 245.5,418.8" fill="none" stroke="#222" stroke-width="2.4" stroke-linejoin="round" stroke-linecap="round" />
<polyline points="245.5,413.2 245.5,418.5" fill="none" stroke="#ddd" stroke-width="1" stroke-linejoin="round" stroke-linecap="round" />
<polyline points="292,421.8 292,427.5" fill="none" stroke="#222" stroke-width="2.4" stroke-linejoin="round" stroke-linecap="round" />
<polyline points="292,422 292,427.2" fill="none" stroke="#ddd" stroke-width="1" stroke-linejoin="round" stroke-linecap="round" />
<ellipse cx="215.75" cy="390" rx="4.25" ry="2.25" fill="#e8e8e8" stroke="#222" stroke-width="0.8" transform="rotate(-15 215.75 390)"/>
<ellipse cx="248" cy="405.5" rx="3.5" ry="2" fill="#c4e8f1" stroke="#222" stroke-width="0.8" transform="rotate(-15 248 405.5)"/>
<ellipse cx="294.25" cy="411.25" rx="5" ry="2.25" fill="#ddd" stroke="#222" stroke-width="0.8"/>
<polygon points="291.2,450 305,447 310,442.5 325,440 327.5,456.2 310,462.5 291.2,468.8" fill="#474747" stroke="#1c1c1c" stroke-width="1" stroke-linejoin="round" />
<polygon points="291.2,450 305,447 308,450 308,460 292.5,463" fill="#5a5a5a" stroke="#1c1c1c" stroke-width="0.8" stroke-linejoin="round" />
<polygon points="295,446.2 305,444.5 306.5,448 296.5,450" fill="#9a9a9a" stroke="#222" stroke-width="0.7" stroke-linejoin="round" />
<polygon points="316.2,447 322.5,445.8 323.5,453 317,454.5" fill="#8a8a8a" stroke="#222" stroke-width="0.7" stroke-linejoin="round" />
<ellipse cx="320" cy="449.25" rx="1.5" ry="1.5" fill="#e0e0e0" stroke="#222" stroke-width="0.6"/>
<path d="M330,453.5 Q380,449 405,441.5 Q430,433 442.5,417 L447,414 Q436,432 408,445 Q380,453.5 332,457.5 Z" fill="#b4b4b4" stroke="#222" stroke-width="0.7"/>
<line x1="316.5" y1="258" x2="316.5" y2="378" stroke="#222" stroke-width="0.9" stroke-dasharray="40,2,1,2"/>
<ellipse cx="447.5" cy="276" rx="3.5" ry="2.5" fill="#777" stroke="#000" stroke-width="0.6"/>
<ellipse cx="442" cy="281.75" rx="3.5" ry="2.25" fill="#444" stroke="#000" stroke-width="0.6"/>
<polyline points="524.4,370.6 526.8,360.2 528.7,358.3 531.1,360.8 530.1,363.8" fill="none" stroke="#1a1a1a" stroke-width="1.7" stroke-linejoin="round" stroke-linecap="round" />
<polyline points="522.3,370.1 519.9,403.3" fill="none" stroke="#141414" stroke-width="8.4" stroke-linejoin="round" stroke-linecap="butt" />
<polyline points="522.3,370.6 519.9,402.8" fill="none" stroke="#5a5a5a" stroke-width="5.2" stroke-linejoin="round" stroke-linecap="butt" stroke-dasharray="1,1.5"/>
<polyline points="518.3,403.6 517.1,413.3 515.2,418.2 512.8,416.4 514,414.6" fill="none" stroke="#1a1a1a" stroke-width="1.7" stroke-linejoin="round" stroke-linecap="round" />
<polygon points="495.1,396.2 497.5,397.5 494.4,403.6 501.2,398.4 504.8,399.9 496.3,408.5 485.9,421.3 482.2,422.2 481,419.5 489.6,408.5" fill="#3c3c3c" stroke="#111" stroke-width="0.8" stroke-linejoin="round" />
<polygon points="490.8,409.7 494.4,406 496.3,407 488.3,418.2 485.9,418.2" fill="#7a7a7a" stroke="none" stroke-width="1" stroke-linejoin="round" />
<polyline points="497.5,425.3 492.2,423.1" fill="none" stroke="#141414" stroke-width="3.66748" stroke-linejoin="round" stroke-linecap="round" />
<ellipse cx="497.506" cy="425.33" rx="1.74817" ry="3.17848" fill="#141414" stroke="#000" stroke-width="0.5" transform="rotate(-157.286 497.506 425.33)"/>
<path d="M314,493 L330,488 L432,457.5 Q448,454 452,460 Q455,468 447,472 L345,498.5 Q330,502 318,500 Q309,497 314,493 Z" fill="none" stroke="#1e1e1e" stroke-width="4.3" stroke-linejoin="round"/>
<path d="M314,493 L330,488 L432,457.5 Q448,454 452,460 Q455,468 447,472 L345,498.5 Q330,502 318,500 Q309,497 314,493 Z" fill="none" stroke="#5e5e5e" stroke-width="2.3" stroke-linejoin="round"/>
<polygon points="68,494 69,471 78,462 118,429 126,435 142,444.4 160,452.6 190,464 224,474 255,478 252,488 249,520 246,529 234,537 214,547 190,542 148,532 100,514 76,500" fill="#5e5e5e" stroke="#1a1a1a" stroke-width="1.4" stroke-linejoin="round" />
<polygon points="69,471 78,462 90,486 96,508 100,514 76,500 68,494" fill="#626262" stroke="#222" stroke-width="0.8" stroke-linejoin="round" />
<polygon points="69,471 78,462 80,465 72,475 72,486 69,486" fill="#9a9a9a" stroke="#222" stroke-width="0.6" stroke-linejoin="round" />
<polygon points="78,462 118,429 126,435 108,476 102,477 90,486" fill="#6a6a6a" stroke="#222" stroke-width="0.8" stroke-linejoin="round" />
<polygon points="114,432 118,429 126,435 108,476 103,476.6 120,438" fill="#a8a8a8" stroke="#222" stroke-width="0.7" stroke-linejoin="round" />
<polyline points="82,465 116,435" fill="none" stroke="#bdbdbd" stroke-width="1" stroke-linejoin="round" stroke-linecap="round" />
<polygon points="107,442 112.4,437.6 96,480 92,483.6" fill="#9a9a9a" stroke="#222" stroke-width="0.5" stroke-linejoin="round" />
<polygon points="72,475 80,465 90,486 93,500 84,492 75,486" fill="#8e8e8e" stroke="#222" stroke-width="0.5" stroke-linejoin="round" />
<polygon points="75,478 80,471 88,487 90,497 84,490 77,485" fill="#5e5e5e" stroke="#222" stroke-width="0.5" stroke-linejoin="round" />
<polygon points="120,435 126,435 142,444.4 160,452.6 190,464 224,474 218,477 188,468 155.6,456.4 140,449 126,442" fill="#a2a2a2" stroke="#222" stroke-width="0.7" stroke-linejoin="round" />
<polygon points="126,442 140,449 155.6,456.4 188,468 218,477 174,499 113,476" fill="#5c5c5c" stroke="#222" stroke-width="0.8" stroke-linejoin="round" />
<polygon points="113,476 174,499 170,505 111,482.4" fill="#a4a4a4" stroke="#222" stroke-width="0.7" stroke-linejoin="round" />
<polygon points="111,482.4 170,505 163,518 107,497" fill="#5e5e5e" stroke="#222" stroke-width="0.7" stroke-linejoin="round" />
<polygon points="107,497 163,518 157.6,526 104,506" fill="#a6a6a6" stroke="#222" stroke-width="0.7" stroke-linejoin="round" />
<polygon points="90,486 93,480 100,477 107,478 110,486 106,500 103,510 97,508" fill="#4e4e4e" stroke="#1a1a1a" stroke-width="1" stroke-linejoin="round" />
<polygon points="97,481 103,479 104,496 100,506 97,500" fill="#7a7a7a" stroke="#222" stroke-width="0.6" stroke-linejoin="round" />
<polygon points="174,499 222,475 255,478 252,488 214,514 204,520 170,522 172,504" fill="#686868" stroke="#222" stroke-width="0.8" stroke-linejoin="round" />
<polygon points="174,499 222,475 230,476 180,504" fill="#a2a2a2" stroke="#222" stroke-width="0.7" stroke-linejoin="round" />
<polygon points="182,506 236,477 246,478 188,510" fill="#8a8a8a" stroke="#333" stroke-width="0.6" stroke-linejoin="round" />
<polygon points="172,520 204,518 214,512 252,486 252,489 214,515 204,521 170,523" fill="#a8a8a8" stroke="#222" stroke-width="0.6" stroke-linejoin="round" />
<polygon points="168,508 174,499 182,508 175,514 168,524 160,528 148,532 162,520" fill="#4a4a4a" stroke="#1a1a1a" stroke-width="0.9" stroke-linejoin="round" />
<polygon points="169,510 173,505 174,514 169,520" fill="#8a8a8a" stroke="#222" stroke-width="0.6" stroke-linejoin="round" />
<polygon points="170,523 204,521 214,515 252,489 249,520 246,529 234,537 214,547 190,542 148,532 160,528" fill="#626262" stroke="#222" stroke-width="0.8" stroke-linejoin="round" />
<polyline points="214,515 220,532 214,547" fill="none" stroke="#2a2a2a" stroke-width="0.7" stroke-linejoin="round" stroke-linecap="round" />
<polyline points="192,532 190,542" fill="none" stroke="#2a2a2a" stroke-width="0.6" stroke-linejoin="round" stroke-linecap="round" />
<path d="M229,518 L229,533 Q230.5,536 232,533 L232,518 Z" fill="#bfe2ea" stroke="#222" stroke-width="0.8"/>
<ellipse cx="245" cy="524" rx="1.2" ry="1.4" fill="#999" stroke="#222" stroke-width="0.7"/>
<polygon points="94.1,522 97.9,522 97.9,529 94.1,529" fill="#2a2a2a" stroke="#111" stroke-width="0.7" stroke-linejoin="round" />
<polygon points="93,527.5 99,527.5 98.5,532 93.5,532" fill="#1e1e1e" stroke="#000" stroke-width="0.7" stroke-linejoin="round" />
<polygon points="165.5,548.6 169.3,548.6 169.3,555.6 165.5,555.6" fill="#2a2a2a" stroke="#111" stroke-width="0.7" stroke-linejoin="round" />
<polygon points="164.4,554.1 170.4,554.1 169.9,558.6 164.9,558.6" fill="#1e1e1e" stroke="#000" stroke-width="0.7" stroke-linejoin="round" />
<ellipse cx="256" cy="530.4" rx="3.4" ry="2.2" fill="#151515" stroke="#000" stroke-width="0.6" transform="rotate(25 256 530.4)"/>
<polygon points="16.1,511.3 42.6,522 67.1,531.1 77.5,532.6 70.4,543.2 64.5,541.9 38.7,534.2 15.2,525.9" fill="#2c2c2c" stroke="#1a1a1a" stroke-width="1.1" stroke-linejoin="round" />
<polygon points="16.1,511.3 42.6,522 67.1,531.1 77.5,532.6 75.5,535.4 65.2,533.9 41.3,525.5 16.1,515.2" fill="#727272" stroke="#222" stroke-width="0.7" stroke-linejoin="round" />
<polyline points="16.5,513.2 42,523.8 65.8,532.6" fill="none" stroke="#bdbdbd" stroke-width="0.7" stroke-linejoin="round" stroke-linecap="round" />
<ellipse cx="19.3648" cy="521.629" rx="1.42009" ry="0.774593" fill="#c8c8c8" stroke="none" stroke-width="1" transform="rotate(20 19.3648 521.629)"/>
<ellipse cx="25.8198" cy="524.857" rx="1.42009" ry="0.774593" fill="#c8c8c8" stroke="none" stroke-width="1" transform="rotate(20 25.8198 524.857)"/>
<ellipse cx="32.9202" cy="528.084" rx="1.42009" ry="0.774593" fill="#c8c8c8" stroke="none" stroke-width="1" transform="rotate(20 32.9202 528.084)"/>
<ellipse cx="39.3752" cy="531.312" rx="1.42009" ry="0.774593" fill="#c8c8c8" stroke="none" stroke-width="1" transform="rotate(20 39.3752 531.312)"/>
<ellipse cx="45.1846" cy="533.894" rx="1.42009" ry="0.774593" fill="#c8c8c8" stroke="none" stroke-width="1" transform="rotate(20 45.1846 533.894)"/>
<ellipse cx="52.2851" cy="536.734" rx="1.42009" ry="0.774593" fill="#c8c8c8" stroke="none" stroke-width="1" transform="rotate(20 52.2851 536.734)"/>
<ellipse cx="58.74" cy="539.058" rx="1.42009" ry="0.774593" fill="#c8c8c8" stroke="none" stroke-width="1" transform="rotate(20 58.74 539.058)"/>
<polygon points="0.6,511.3 3.2,507.4 12.3,504.8 16.1,506.8 16.8,512.6 15.5,519.7 14.2,541.6 11.6,542.9 7.7,541 4.5,537.8 2.6,527.4 1.9,517.1" fill="#4c4c4c" stroke="#1a1a1a" stroke-width="1.2" stroke-linejoin="round" />
<polygon points="3.2,507.4 12.3,504.8 16.1,506.8 16.5,512.6 12.9,517.8 5.2,517.8 1.9,516.5 0.6,511.3" fill="#5e5e5e" stroke="#222" stroke-width="0.7" stroke-linejoin="round" />
<polygon points="5.8,519 12.9,519 13.6,540.3 11.6,542.3 8,540.6" fill="#5a5a5a" stroke="#222" stroke-width="0.6" stroke-linejoin="round" />
<polyline points="5.2,517.8 12.9,517.8" fill="none" stroke="#ddd" stroke-width="0.9" stroke-linejoin="round" stroke-linecap="round" />
<polyline points="9,520.3 11,541" fill="none" stroke="#888" stroke-width="0.7" stroke-linejoin="round" stroke-linecap="round" />
<polygon points="77.5,532.6 82.6,529.4 93,539.7 89.1,542.9 83.9,548.7 82.6,559.7 80.7,564.2 74.9,564.9 72.9,560.4 70.4,559.1 64.5,561 63.9,559.7 70.4,546.8 69.7,542.9" fill="#4e4e4e" stroke="#1a1a1a" stroke-width="1.2" stroke-linejoin="round" />
<polygon points="77.5,532.6 82.6,529.4 93,539.7 89.1,542.9 82.6,545.5 74.9,543.6 72.9,539.1" fill="#7a7a7a" stroke="#222" stroke-width="0.7" stroke-linejoin="round" />
<polyline points="75.5,541.6 87.1,534.5" fill="none" stroke="#d0d0d0" stroke-width="0.8" stroke-linejoin="round" stroke-linecap="round" />
<polygon points="70.4,546.8 74.9,544.2 82.6,545.8 77.5,550.7 70.4,559.1 64.5,561" fill="#5c5c5c" stroke="#222" stroke-width="0.7" stroke-linejoin="round" />
<polyline points="67.1,558.4 76.2,546.8" fill="none" stroke="#c4c4c4" stroke-width="0.7" stroke-linejoin="round" stroke-linecap="round" />
<polygon points="74.9,554.5 82.6,548.7 82.6,559.7 80.7,564.2 74.9,564.9 73.3,560.4" fill="#666" stroke="#1a1a1a" stroke-width="0.8" stroke-linejoin="round" />
<path d="M 73.67 322.5 L 92.34 313.09 L 126.7 295.91 L 133.42 286.2 L 137.9 283.96 L 140.44 288.14 L 136.85 291.43 L 143.13 295.91 L 137.15 295.16 L 124.45 304.87 L 104.29 316.82 L 102.8 325.78 L 96.82 330.27 L 87.11 332.51 L 84.13 328.77 L 77.4 323.1 Z" fill="#5c5c5c" stroke="#1c1c1c" stroke-width="1" stroke-linejoin="round"/>
<path d="M 77.4 323.1 L 104.29 310.1 L 125.2 299.65 L 124.45 304.87 L 104.29 316.82 L 89.35 325.04 L 84.13 328.77 Z" fill="#787878" stroke="#222" stroke-width="0.6" stroke-linejoin="round"/>
<path d="M 126.7 295.91 L 133.42 286.2 L 137.9 283.96 L 140.44 288.14 L 136.85 291.43 L 131.18 295.16 Z" fill="#4a4a4a" stroke="#1a1a1a" stroke-width="0.8" stroke-linejoin="round"/>
<path d="M 124.45 304.87 L 137.15 295.16 L 143.13 295.91 Q 145.81 313.83 149.4 336.24 L 147.31 335.94 Q 142.38 322.8 137.9 315.33 Q 132.67 307.11 124.45 304.87 Z" fill="#a6a6a6" stroke="#1c1c1c" stroke-width="1" stroke-linejoin="round"/>
<path d="M 140.88 295.91 L 143.13 295.91 Q 145.81 313.83 149.4 336.24 L 147.91 335.94 Q 144.62 315.33 140.88 295.91 Z" fill="#555" stroke="#222" stroke-width="0.5" stroke-linejoin="round"/>
<path d="M 63.96 346.7 L 73.67 322.8 L 77.4 323.1 L 90.85 337.73 L 91.59 358.64 L 91.59 377.32 L 89.35 375.82 L 68.44 352.67 Z" fill="#5a5a5a" stroke="#1c1c1c" stroke-width="1.1" stroke-linejoin="round"/>
<path d="M 73.67 322.8 L 77.4 323.1 L 90.85 337.73 L 91.59 377.32 L 89.65 375.82 L 88.16 340.72 Z" fill="#a2a2a2" stroke="#222" stroke-width="0.6" stroke-linejoin="round"/>
<path d="M 92.34 304.87 Q 94.58 301.89 98.32 302.18 L 101.3 304.87 L 103.54 314.13 L 96.08 317.12 L 93.54 312.34 Z" fill="#8a8a8a" stroke="#1c1c1c" stroke-width="0.9" stroke-linejoin="round"/>
<path d="M 94.58 304.13 L 98.32 303.08 L 99.81 314.13 L 96.52 315.63 Z" fill="#b0b0b0" stroke="none" stroke-width="0" stroke-linejoin="round"/>
<path d="M 84.87 330.56 L 90.85 324.29 L 98.32 321.6 L 103.1 323.54 L 102.5 326.98 L 96.82 330.27 L 87.11 332.95 Z" fill="#9a9a9a" stroke="#222" stroke-width="0.7" stroke-linejoin="round"/>
<ellipse cx="96.5235" cy="322.498" rx="1.94175" ry="1.34429" fill="#e6e6e6" stroke="#222" stroke-width="0.6"/>
<path d="M 156.73 366.64 L 155.98 330.77 Q 158.22 325.54 161.21 322.55 Q 164.95 308.35 170.93 297.88 Q 179.9 288.92 191.85 281.44 Q 203.81 275.16 212.78 272.47 L 215.77 275.16 L 216.52 279.95 L 214.28 282.19 L 217.26 285.93 L 218.01 290.41 L 214.28 294.15 L 214.28 327.78 L 211.29 331.52 Q 200.82 333.01 191.85 336 Q 178.4 341.23 169.43 348.71 Q 163.45 354.69 159.27 366.94 Z" fill="#5a5a5a" stroke="#1a1a1a" stroke-width="1.3" stroke-linejoin="round"/>
<path d="M 161.21 322.55 Q 164.95 308.35 170.93 297.88 Q 179.9 288.92 191.85 281.44 Q 203.81 275.16 212.78 272.47 L 215.77 275.16 L 216.52 279.95 L 214.28 282.19 L 217.26 285.93 L 218.01 290.41 L 214.28 294.15 L 208.3 295.64 L 207.55 304.16 Q 194.84 304.16 182.88 309.84 Q 170.93 315.82 162.71 325.09 Z" fill="#1a1a1a" stroke="#111" stroke-width="0.8" stroke-linejoin="round"/>
<path d="M 172.42 300.13 Q 184.38 289.66 199.33 282.19 L 201.57 285.18 Q 187.37 292.65 175.41 303.12 Z" fill="#6e6e6e" stroke="none" stroke-width="0" stroke-linejoin="round"/>
<path d="M 191.85 298.63 L 203.81 294.15 L 209.04 294.9 L 208.3 298.63 L 202.32 303.12 L 199.33 300.87 L 192.6 302.37 Z" fill="#727272" stroke="#111" stroke-width="0.6" stroke-linejoin="round"/>
<path d="M 199.33 279.2 L 202.32 277.71 L 203.81 281.44 L 201.57 283.68 Z" fill="#dcdcdc" stroke="none" stroke-width="0" stroke-linejoin="round"/>
<path d="M 166.44 315.07 L 169.43 316.57 L 168.68 321.05 L 165.7 320.31 Z" fill="#9a9a9a" stroke="none" stroke-width="0" stroke-linejoin="round"/>
<path d="M 162.71 325.09 Q 170.93 315.82 182.88 309.84 Q 194.84 304.16 207.55 303.86 L 207.55 329.57 Q 194.84 333.01 184.38 337.5 Q 172.42 343.48 166.44 350.2 Q 163.15 354.39 161.21 358.87 Z" fill="#5e5e5e" stroke="#222" stroke-width="0.9" stroke-linejoin="round"/>
<path d="M 208.3 295.64 L 214.28 294.15 L 214.28 327.78 L 211.29 331.52 L 208 329.57 Z" fill="#747474" stroke="#222" stroke-width="0.7" stroke-linejoin="round"/>
<path d="M 155.98 330.77 Q 158.22 325.99 161.21 323 L 162.71 325.09 L 161.21 358.87 L 159.27 366.94 L 156.73 366.64 Z" fill="#8c8c8c" stroke="#222" stroke-width="0.7" stroke-linejoin="round"/>
<polyline points="168.7,343 178.4,335.6" fill="none" stroke="#1a1a1a" stroke-width="1.8" stroke-linejoin="round" stroke-linecap="round" />
<polyline points="162,359.5 167.6,350.5 185.1,338.5 208.3,330.8" fill="none" stroke="#a0a0a0" stroke-width="0.8" stroke-linejoin="round" stroke-linecap="round" />
<polygon points="326.2,580 337.5,572.5 337.5,567.5 346.2,565 365,525 377.5,517.5 396.2,505 401.2,505 402.5,513.8 401.2,560 387.5,571.2 375,587.5 350,593.8 348.8,612.5 327.5,597.5" fill="#b4b4b4" stroke="#1c1c1c" stroke-width="1.1" stroke-linejoin="round" />
<polygon points="326.2,580 337.5,572.5 337.5,567.5 346.2,565 347.5,582.5 350,593.8 348.8,612.5 327.5,597.5" fill="#a6a6a6" stroke="#222" stroke-width="0.7" stroke-linejoin="round" />
<polygon points="327.5,581.2 347.5,583.8 350,593.8 348.8,612.5 327.5,597.5" fill="#c2c2c2" stroke="#222" stroke-width="0.6" stroke-linejoin="round" />
<polyline points="377.5,518 376.2,570" fill="none" stroke="#444" stroke-width="0.8" stroke-linejoin="round" stroke-linecap="round" />
<polyline points="379.5,517.5 379.5,570" fill="none" stroke="#777" stroke-width="0.6" stroke-linejoin="round" stroke-linecap="round" />
<polyline points="396.2,506.2 395,565" fill="none" stroke="#444" stroke-width="0.9" stroke-linejoin="round" stroke-linecap="round" />
<polygon points="350,593.8 375,587.5 387.5,571.2 401.2,560 438.8,540 441.2,538.8 441.2,560 438.8,592.5 350,612.5" fill="#5e5e5e" stroke="#1c1c1c" stroke-width="1.1" stroke-linejoin="round" />
<polygon points="438.8,537.5 443.8,538.8 443.8,545 441.2,545" fill="#888" stroke="#222" stroke-width="0.8" stroke-linejoin="round" />
<polygon points="356.2,590 358.8,578.8 362.5,575.5 368.8,576.2 373,587.5 365,591.2" fill="#6e6e6e" stroke="#222" stroke-width="0.8" stroke-linejoin="round" />
<ellipse cx="364" cy="577.5" rx="4.25" ry="2.25" fill="#8a8a8a" stroke="#222" stroke-width="0.7"/>
<ellipse cx="364" cy="577.5" rx="1.75" ry="1" fill="#333" stroke="none" stroke-width="1"/>
<polyline points="401.2,506.2 403,510 402.5,515" fill="none" stroke="#222" stroke-width="1.4" stroke-linejoin="round" stroke-linecap="round" />
<polyline points="315.5,601.2 315.5,607" fill="none" stroke="#555" stroke-width="1.6" stroke-linejoin="round" stroke-linecap="round" />
<ellipse cx="327" cy="609.25" rx="4.25" ry="2.25" fill="#111" stroke="#000" stroke-width="0.6"/>
<ellipse cx="363.75" cy="615.5" rx="3.25" ry="2" fill="#111" stroke="#000" stroke-width="0.6"/>
<ellipse cx="363.75" cy="623.75" rx="2.75" ry="2.75" fill="#222" stroke="#000" stroke-width="0.6"/>
<polygon points="301.2,635 346.2,626.2 355,638.8 311.2,648.8" fill="#2a2a2a" stroke="#111" stroke-width="1" stroke-linejoin="round" />
<polygon points="302.5,634.2 346.2,625.5 352.5,634.5 308.8,644" fill="#777" stroke="#111" stroke-width="0.8" stroke-linejoin="round" />
<ellipse cx="309.5" cy="640.5" rx="2.25" ry="1.5" fill="#111" stroke="none" stroke-width="1"/>
<ellipse cx="345.75" cy="634.25" rx="2.25" ry="1.5" fill="#111" stroke="none" stroke-width="1"/>
<path d="M319,619 L319,639 Q328,645 337.5,639 L337.5,619 Z" fill="#666" stroke="#111" stroke-width="1"/>
<path d="M319,619 L319,639 Q323,642 327,642.5 L327,623 Z" fill="#555" stroke="none"/>
<ellipse cx="328" cy="619.5" rx="9.25" ry="4.25" fill="#7a7a7a" stroke="#111" stroke-width="1"/>
<ellipse cx="328" cy="619.5" rx="5.5" ry="2.5" fill="#cfcfcf" stroke="#222" stroke-width="0.8"/>
<polygon points="227,682.5 268.8,670 350,656.2 385,646.2 417.5,640 428.8,662.5 396.2,667.5 390,665 355,670 277.5,683.8 237.5,690" fill="#5a5a5a" stroke="#1a1a1a" stroke-width="1.2" stroke-linejoin="round" />
<polygon points="396.2,667.5 428.8,662.5 427.5,660 395.5,665" fill="#aaa" stroke="#222" stroke-width="0.5" stroke-linejoin="round" />
<polygon points="227,682.5 237.5,690 277.5,683.8 276.2,682 238,687.5" fill="#8a8a8a" stroke="#222" stroke-width="0.5" stroke-linejoin="round" />
<rect x="277" y="669.5" width="28" height="6.5" rx="3.2" fill="#c9ebf3" stroke="#111" stroke-width="1.3" transform="rotate(-7 291 673)"/>
<rect x="350.5" y="656.8" width="28" height="6.5" rx="3.2" fill="#c9ebf3" stroke="#111" stroke-width="1.3" transform="rotate(-7 364 660)"/>
<ellipse cx="309.5" cy="671.25" rx="2" ry="1.5" fill="#111" stroke="none" stroke-width="1"/>
<ellipse cx="327.5" cy="668" rx="2.5" ry="2" fill="#111" stroke="none" stroke-width="1"/>
<ellipse cx="346.25" cy="663.75" rx="2" ry="1.5" fill="#111" stroke="none" stroke-width="1"/>
<ellipse cx="326.25" cy="689.5" rx="10" ry="6" fill="#585858" stroke="#111" stroke-width="1"/>
<ellipse cx="326.25" cy="689.5" rx="3.25" ry="2.25" fill="#0c0c0c" stroke="#000" stroke-width="0.6"/>
<ellipse cx="326.25" cy="701.25" rx="3.75" ry="1.5" fill="#111" stroke="#000" stroke-width="0.6"/>
<polygon points="324.2,707 328,707 328,718 324.2,718" fill="#ddd" stroke="#111" stroke-width="1.2" stroke-linejoin="round" />
<polygon points="322,717 330.5,717 330,722.5 322.5,722.5" fill="#1a1a1a" stroke="#000" stroke-width="0.8" stroke-linejoin="round" />
<circle cx="649.5" cy="612" r="0.9" fill="#5a6a70"/>
<rect x="223.7" y="501.8" width="319.5" height="223.2" rx="10.5" ry="10.5" fill="none" stroke="#ec1c24" stroke-width="2"/>
<line x1="180" y1="648.6" x2="223" y2="648.6" stroke="#ec1c24" stroke-width="1.2"/>
<text x="95.3" y="652.3" fill="#ec1c24" font-size="18.8" text-anchor="start">до 2018 г</text>
<line x1="302.4" y1="33.6" x2="325" y2="27" stroke="#8a8a8a" stroke-width="0.9"/>
<line x1="334" y1="131" x2="425" y2="125.6" stroke="#2e2e2e" stroke-width="1.1"/>
<line x1="474" y1="173" x2="500" y2="153" stroke="#2e2e2e" stroke-width="1.1"/>
<line x1="555" y1="153" x2="540" y2="193" stroke="#2e2e2e" stroke-width="1.1"/>
<line x1="565" y1="193" x2="555" y2="220" stroke="#2e2e2e" stroke-width="1.1"/>
<line x1="627" y1="177" x2="610" y2="209" stroke="#2e2e2e" stroke-width="1.1"/>
<line x1="712" y1="256" x2="684" y2="287" stroke="#2e2e2e" stroke-width="1.1"/>
<line x1="712" y1="256" x2="679" y2="293.6" stroke="#2e2e2e" stroke-width="1.1"/>
<line x1="787.354" y1="147.925" x2="804.624" y2="193.886" stroke="#2e2e2e" stroke-width="1.1"/>
<line x1="206" y1="182" x2="188" y2="193" stroke="#2e2e2e" stroke-width="1.1"/>
<line x1="227.6" y1="203" x2="189" y2="208.6" stroke="#2e2e2e" stroke-width="1.1"/>
<line x1="261" y1="226.4" x2="195" y2="226.4" stroke="#2e2e2e" stroke-width="1.1"/>
<line x1="350.6" y1="239" x2="350.6" y2="266" stroke="#2e2e2e" stroke-width="1.1"/>
<line x1="583" y1="371" x2="598" y2="412" stroke="#2e2e2e" stroke-width="1.1"/>
<line x1="525" y1="397.5" x2="545" y2="433.75" stroke="#2e2e2e" stroke-width="1.1"/>
<line x1="482.5" y1="422.5" x2="490" y2="453.75" stroke="#2e2e2e" stroke-width="1.1"/>
<line x1="450" y1="470" x2="481.25" y2="500" stroke="#2e2e2e" stroke-width="1.1"/>
<line x1="442.5" y1="560.5" x2="522.5" y2="581.25" stroke="#2e2e2e" stroke-width="1.1"/>
<line x1="428" y1="664" x2="483.5" y2="678.6" stroke="#2e2e2e" stroke-width="1.1"/>
<line x1="331.25" y1="717.5" x2="398.75" y2="712.5" stroke="#2e2e2e" stroke-width="1.1"/>
<line x1="275" y1="700" x2="317.5" y2="692" stroke="#2e2e2e" stroke-width="1.1"/>
<line x1="267.5" y1="640" x2="302.5" y2="635" stroke="#2e2e2e" stroke-width="1.1"/>
<line x1="266.25" y1="613.25" x2="322.5" y2="611.75" stroke="#2e2e2e" stroke-width="1.1"/>
<line x1="281.25" y1="582" x2="315" y2="600" stroke="#2e2e2e" stroke-width="1.1"/>
<line x1="211.25" y1="547.5" x2="196.25" y2="581.25" stroke="#2e2e2e" stroke-width="1.1"/>
<line x1="77.5" y1="566.25" x2="76.25" y2="593.75" stroke="#2e2e2e" stroke-width="1.1"/>
<line x1="156" y1="365" x2="106" y2="400" stroke="#2e2e2e" stroke-width="1.1"/>
<line x1="68" y1="353.4" x2="42" y2="366" stroke="#2e2e2e" stroke-width="1.1"/>
<text x="324.5" y="32.5" fill="#111" font-size="18.4" text-anchor="start">26</text>
<text x="424.5" y="131" fill="#111" font-size="18.4" text-anchor="start">7</text>
<text x="499.6" y="158" fill="#111" font-size="18.4" text-anchor="start">6</text>
<text x="547" y="153.7" fill="#111" font-size="18.4" text-anchor="start">5</text>
<text x="558" y="192.5" fill="#111" font-size="18.4" text-anchor="start">4</text>
<text x="622.8" y="176.7" fill="#111" font-size="18.4" text-anchor="start">3</text>
<text x="712.5" y="261.5" fill="#111" font-size="18.4" text-anchor="start">2</text>
<text x="777.8" y="146.4" fill="#111" font-size="18.4" text-anchor="start">1</text>
<text x="206.3" y="186" fill="#111" font-size="18.4" text-anchor="start">8</text>
<text x="227.5" y="208.5" fill="#111" font-size="18.4" text-anchor="start">9</text>
<text x="260.8" y="231.7" fill="#111" font-size="18.4" text-anchor="start">10</text>
<text x="338.5" y="239.7" fill="#111" font-size="18.4" text-anchor="start">11</text>
<text x="590" y="425" fill="#111" font-size="18.4" text-anchor="start">12</text>
<text x="535" y="446.6" fill="#111" font-size="18.4" text-anchor="start">13</text>
<text x="480.7" y="467" fill="#111" font-size="18.4" text-anchor="start">14</text>
<text x="480.5" y="504.2" fill="#111" font-size="18.4" text-anchor="start">15</text>
<text x="523.5" y="588" fill="#111" font-size="18.4" text-anchor="start">16</text>
<text x="484" y="685" fill="#111" font-size="18.4" text-anchor="start">17</text>
<text x="398.5" y="718.7" fill="#111" font-size="18.4" text-anchor="start">18</text>
<text x="254" y="709.3" fill="#111" font-size="18.4" text-anchor="start">19</text>
<text x="247.3" y="648" fill="#111" font-size="18.4" text-anchor="start">20</text>
<text x="245" y="617.4" fill="#111" font-size="18.4" text-anchor="start">21</text>
<text x="268.5" y="583" fill="#111" font-size="18.4" text-anchor="start">8</text>
<text x="186" y="596" fill="#111" font-size="18.4" text-anchor="start">22</text>
<text x="65.3" y="607.5" fill="#111" font-size="18.4" text-anchor="start">23</text>
<text x="90.7" y="414.4" fill="#111" font-size="18.4" text-anchor="start">24</text>
<text x="29" y="378.2" fill="#111" font-size="18.4" text-anchor="start">25</text>
</svg>
</body></html>
